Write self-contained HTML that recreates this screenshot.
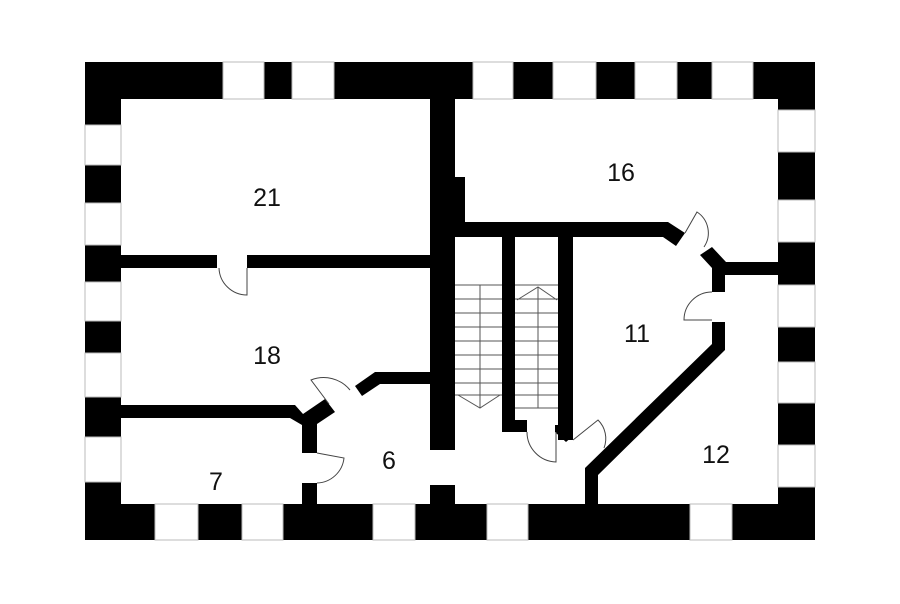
<!DOCTYPE html>
<html><head><style>
html,body{margin:0;padding:0;background:#fff;}
svg{display:block}
text{font-family:"Liberation Sans",sans-serif;font-size:25px;fill:#111;text-anchor:middle;}
</style></head><body>
<svg width="900" height="604" viewBox="0 0 900 604" xmlns="http://www.w3.org/2000/svg">
<rect x="85" y="62" width="730" height="478" fill="#000"/>
<rect x="121" y="99" width="657" height="405" fill="#fff"/>
<g fill="#fff" stroke="#bbb" stroke-width="1">
<rect x="223" y="62" width="41" height="37"/>
<rect x="292" y="62" width="42" height="37"/>
<rect x="473" y="62" width="40" height="37"/>
<rect x="553" y="62" width="43" height="37"/>
<rect x="635" y="62" width="42" height="37"/>
<rect x="712" y="62" width="41" height="37"/>
<rect x="155" y="504" width="43" height="36"/>
<rect x="242" y="504" width="41" height="36"/>
<rect x="373" y="504" width="42" height="36"/>
<rect x="487" y="504" width="41" height="36"/>
<rect x="690" y="504" width="42" height="36"/>
<rect x="85" y="125" width="36" height="40"/>
<rect x="85" y="203" width="36" height="42"/>
<rect x="85" y="282" width="36" height="39"/>
<rect x="85" y="353" width="36" height="44"/>
<rect x="85" y="437" width="36" height="45"/>
<rect x="778" y="110" width="37" height="42"/>
<rect x="778" y="200" width="37" height="42"/>
<rect x="778" y="285" width="37" height="42"/>
<rect x="778" y="362" width="37" height="41"/>
<rect x="778" y="445" width="37" height="42"/>
</g>
<g fill="#000">
<rect x="430" y="99" width="25" height="351"/>
<rect x="455" y="177" width="10" height="45"/>
<rect x="430" y="485" width="25" height="19"/>
<rect x="121" y="255" width="96" height="13"/>
<rect x="247" y="255" width="183" height="13"/>
<rect x="455" y="222" width="213" height="15"/>
<polygon points="668,222 685,233 676,246 663,237"/>
<polygon points="700,255 712,247 726,262 778,262 778,275 725,275 725,292 712,292 712,268"/>
<polygon points="712,322 725,322 725,350 598,475 598,504 585,504 585,468 712,344"/>
<rect x="502" y="237" width="13" height="195"/>
<rect x="502" y="420" width="25" height="12"/>
<rect x="558" y="237" width="15" height="203"/>
<polygon points="555,425 573,425 573,436 566,442 555,432"/>
<polygon points="121,405 295,405 303,414 325,399 335,412 317,424 317,453 302,453 302,425 290,418 121,418"/>
<rect x="302" y="483" width="15" height="21"/>
<polygon points="375,372 430,372 430,384 380,384 362,396 355,386"/>
</g>
<g fill="none" stroke="#444" stroke-width="1">
<path d="M247,268 L247,295 A28,28 0 0 1 219,268"/>
<path d="M685,233 L697,212 A25,25 0 0 1 704,247"/>
<path d="M712,292 A28,28 0 0 0 684,320 L712,320"/>
<path d="M329,404 L311,380 A34,34 0 0 1 350,390"/>
<path d="M317,453 L344,458 A28,28 0 0 1 317,483"/>
<path d="M527,432 A30,30 0 0 0 556,462 L556,432"/>
<path d="M573,440 L598,420 A26,26 0 0 1 604,448"/>
</g>
<g stroke="#555" stroke-width="1" fill="none">
<path d="M455,285 H502 M455,299 H502 M455,313 H502 M455,327 H502 M455,341 H502 M455,355 H502 M455,369 H502 M455,383 H502 M455,395 H502"/>
<path d="M515,285 H558 M515,299 H558 M515,313 H558 M515,327 H558 M515,341 H558 M515,355 H558 M515,369 H558 M515,383 H558 M515,395 H558 M515,408 H558"/>
<path d="M480,285 V408 M458,395 L480,408 L500,395"/>
<path d="M538,287 V408 M517,300 L538,287 L557,300"/>
</g>
<text x="267" y="206">21</text>
<text x="621" y="181">16</text>
<text x="267" y="364">18</text>
<text x="637" y="342">11</text>
<text x="389" y="469">6</text>
<text x="216" y="490">7</text>
<text x="716" y="463">12</text>
</svg>
</body></html>
